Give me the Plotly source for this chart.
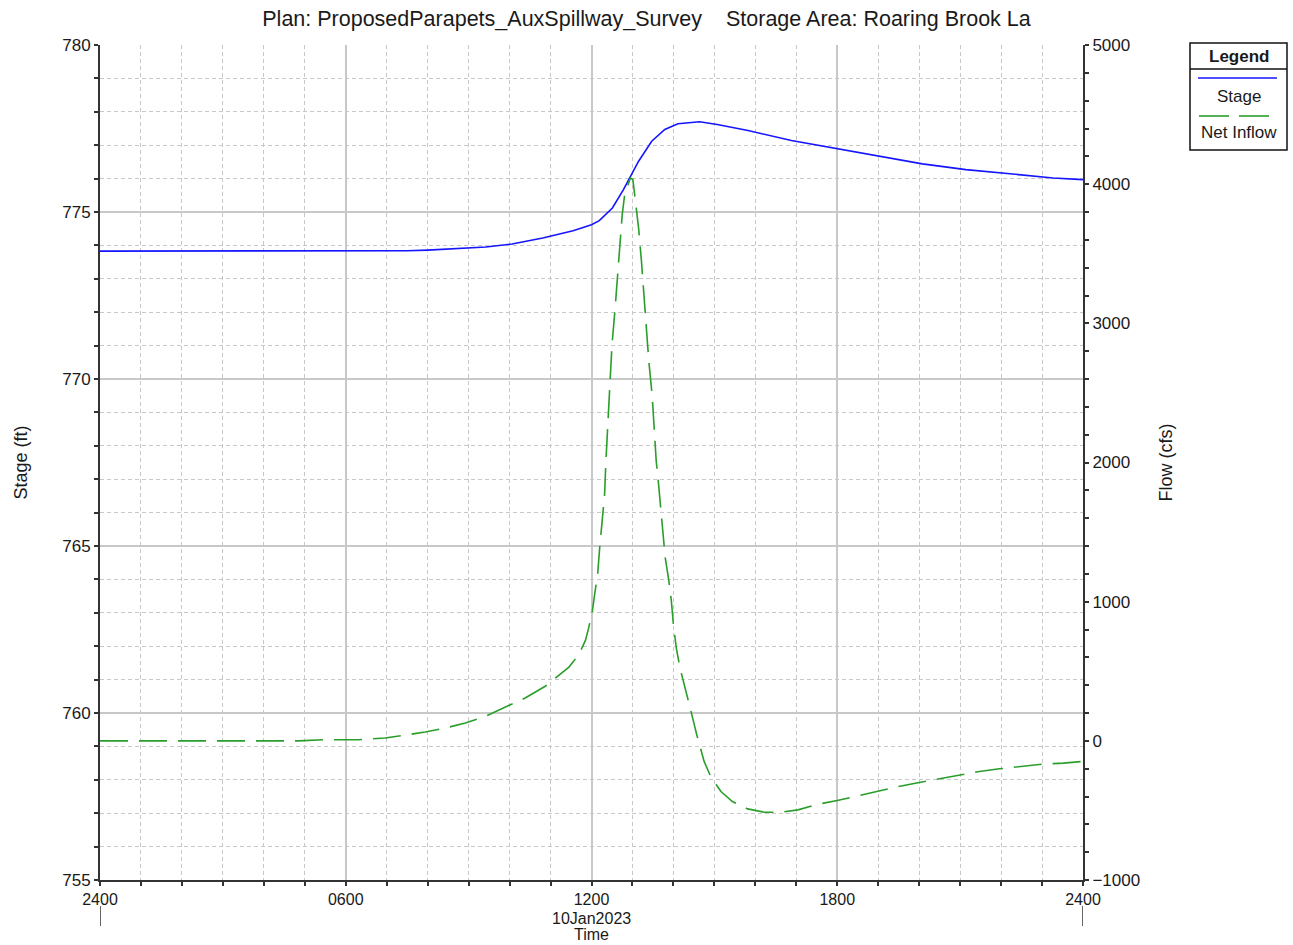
import pandas as pd
import plotly.graph_objects as go

# ---------------- data ----------------
stage_hours = [0, 2, 4, 6, 7, 7.5, 8, 8.67, 9.42, 10.06, 10.81, 11.55, 12.0, 12.19, 12.51,
               12.78, 12.94, 13.15, 13.47, 13.79, 14.11, 14.64, 15.07, 15.82, 16.88, 18.0,
               19.01, 20.08, 21.14, 22.21, 23.27, 24.0]
stage_values = [773.83, 773.83, 773.83, 773.83, 773.83, 773.84, 773.86, 773.9, 773.95, 774.04,
                774.22, 774.44, 774.62, 774.74, 775.12, 775.67, 776.02, 776.52, 777.12, 777.47,
                777.64, 777.70, 777.62, 777.44, 777.14, 776.89, 776.67, 776.44, 776.27, 776.14,
                776.02, 775.97]

flow_hours = [0, 2, 4, 4.84, 5.49, 6.31, 6.96, 7.45, 7.94, 8.43, 8.92, 9.41, 9.90, 10.38, 10.87,
              11.2, 11.45, 11.69, 11.85, 11.93, 12.02, 12.08, 12.15, 12.20, 12.26, 12.32, 12.35,
              12.40, 12.44, 12.50, 12.57, 12.63, 12.68, 12.75, 12.81, 12.95, 13.01, 13.07, 13.15,
              13.22, 13.28, 13.33, 13.40, 13.48, 13.54, 13.58, 13.63, 13.68, 13.74, 13.80, 13.89,
              13.95, 14.0, 14.07, 14.16, 14.29, 14.43, 14.57, 14.75, 14.91, 15.16, 15.44, 15.81,
              16.22, 16.63, 17.04, 17.53, 18.0, 18.52, 19.01, 19.5, 20.0, 20.48, 20.98, 21.47,
              21.96, 22.45, 23.02, 23.52, 24.0]
flow_values = [0, 0, 0, 0, 8, 8, 20, 39, 63, 92, 128, 176, 241, 308, 392,
               470, 530, 620, 720, 810, 930, 1060, 1196, 1388, 1580, 1772, 2000,
               2293, 2533, 2845, 3085, 3325, 3565, 3781, 3925, 4045, 4033, 3877, 3685,
               3445, 3205, 3013, 2725, 2485, 2197, 2012, 1868, 1700, 1484, 1316, 1148,
               1004, 836, 668, 524, 380, 212, 44, -148, -256, -364, -436, -489,
               -513, -513, -496, -455, -429, -393, -359, -328, -299, -273, -244, -220,
               -201, -184, -167, -160, -148]

x_tick_hours = [0, 6, 12, 18, 24]
x_tick_labels = ["2400", "0600", "1200", "1800", "2400"]
date_label = "10Jan2023"
x_title = "Time"
stage_range = [755, 780]
flow_range = [-1000, 5000]

title_text = "Plan: ProposedParapets_AuxSpillway_Survey    Storage Area: Roaring Brook La"

base = pd.Timestamp("2023-01-10 00:00")
def to_time(hours):
    return [base + pd.Timedelta(hours=h) for h in hours]

# ---------------- figure ----------------
W, H = 1293, 945
L, R, T, B = 100, 1083, 45, 880

FONT = "Liberation Sans, Arial, sans-serif"
TXT = "#1a1a1a"
BLUE = "#1515FF"
GREEN = "#2A9E2A"
GRID = "#C8C8C8"
AXIS = "#333333"
FS = 17
FSX = 16

fig = go.Figure()
fig.add_trace(go.Scatter(x=to_time(stage_hours), y=stage_values, mode="lines",
                         line=dict(color=BLUE, width=1.6), name="Stage", yaxis="y"))
fig.add_trace(go.Scatter(x=to_time(flow_hours), y=flow_values, mode="lines",
                         line=dict(color=GREEN, width=1.6, dash="28px,11px"),
                         name="Net Inflow", yaxis="y2"))

t0 = base
t1 = base + pd.Timedelta(hours=24)

fig.update_layout(
    width=W, height=H,
    margin=dict(l=L, r=W - R, t=T, b=H - B, autoexpand=False),
    paper_bgcolor="white", plot_bgcolor="white",
    showlegend=False,
    font=dict(family=FONT, size=FS, color=TXT),
    title=dict(text=title_text, x=0.5, xref="container", xanchor="center",
               y=1 - 18 / H, yref="container", yanchor="middle",
               font=dict(size=21.5, color=TXT)),
    xaxis=dict(
        range=[t0, t1], type="date",
        tickmode="array", tickvals=to_time(x_tick_hours), ticktext=x_tick_labels,
        ticks="outside", ticklen=4, tickwidth=1.5, tickcolor=AXIS,
        showgrid=True, gridcolor=GRID, gridwidth=1.5,
        showline=True, linecolor=AXIS, linewidth=2,
        zeroline=False,
        tickfont=dict(size=FSX),
        minor=dict(dtick=3600000, tick0=t0, ticks="outside", ticklen=4, tickwidth=1.5,
                   tickcolor=AXIS, showgrid=True, gridcolor=GRID, griddash="4px,3px",
                   gridwidth=1),
        automargin=False,
    ),
    yaxis=dict(
        range=stage_range, dtick=5, tick0=755,
        ticks="outside", ticklen=4, tickwidth=1.5, tickcolor=AXIS,
        showgrid=True, gridcolor=GRID, gridwidth=1.5,
        showline=True, linecolor=AXIS, linewidth=2,
        zeroline=False,
        tickfont=dict(size=FS),
        minor=dict(dtick=1, tick0=755, ticks="outside", ticklen=4, tickwidth=1.5,
                   tickcolor=AXIS, showgrid=True, gridcolor=GRID, griddash="4px,3px",
                   gridwidth=1),
        title=dict(text="Stage (ft)", standoff=30, font=dict(size=18)),
        automargin=False,
    ),
    yaxis2=dict(
        range=flow_range, dtick=1000, tick0=-1000, overlaying="y", side="right",
        ticks="outside", ticklen=4, tickwidth=1.5, tickcolor=AXIS,
        showgrid=False,
        showline=True, linecolor=AXIS, linewidth=2,
        zeroline=False,
        tickfont=dict(size=FS),
        minor=dict(dtick=200, tick0=-1000, ticks="outside", ticklen=4, tickwidth=1.5,
                   tickcolor=AXIS, showgrid=False),
        title=dict(text="Flow (cfs)", standoff=20, font=dict(size=18)),
        automargin=False,
    ),
)

def px_x(p):
    return (p - L) / (R - L)

def px_y(p):
    return (B - p) / (B - T)

# date and axis title under the 1200 label
t_mid = base + pd.Timedelta(hours=x_tick_hours[2])
fig.add_annotation(xref="x", yref="paper", x=t_mid, y=px_y(918), text=date_label,
                   showarrow=False, font=dict(size=FSX), xanchor="center", yanchor="middle")
fig.add_annotation(xref="x", yref="paper", x=t_mid, y=px_y(934), text=x_title,
                   showarrow=False, font=dict(size=FSX), xanchor="center", yanchor="middle")

# day-separator marks below the first and last time labels
for t in (t0, t1):
    fig.add_shape(type="line", xref="x", yref="paper", x0=t, x1=t,
                  y0=px_y(906), y1=px_y(926),
                  line=dict(color=AXIS, width=1.5))

# ---------------- custom legend (HEC-RAS style) ----------------
lx0, lx1, ly0, ly1 = 1190, 1287, 43, 150
fig.add_shape(type="rect", xref="paper", yref="paper",
              x0=px_x(lx0), x1=px_x(lx1), y0=px_y(ly1), y1=px_y(ly0),
              line=dict(color="#111111", width=1.5), fillcolor="white", layer="above")
fig.add_shape(type="line", xref="paper", yref="paper",
              x0=px_x(lx0), x1=px_x(lx1), y0=px_y(69), y1=px_y(69),
              line=dict(color="#111111", width=1.5))
cx = (lx0 + lx1) / 2
fig.add_annotation(xref="paper", yref="paper", x=px_x(cx), y=px_y(56), text="<b>Legend</b>",
                   showarrow=False, font=dict(size=FS, color=TXT), xanchor="center", yanchor="middle")
fig.add_shape(type="line", xref="paper", yref="paper",
              x0=px_x(1198), x1=px_x(1277), y0=px_y(78), y1=px_y(78),
              line=dict(color=BLUE, width=1.6))
fig.add_annotation(xref="paper", yref="paper", x=px_x(cx), y=px_y(97), text="Stage",
                   showarrow=False, font=dict(size=FS, color=TXT), xanchor="center", yanchor="middle")
for a, b in ((1199, 1229), (1239, 1269)):
    fig.add_shape(type="line", xref="paper", yref="paper",
                  x0=px_x(a), x1=px_x(b), y0=px_y(116), y1=px_y(116),
                  line=dict(color=GREEN, width=1.6))
fig.add_annotation(xref="paper", yref="paper", x=px_x(cx), y=px_y(132), text="Net Inflow",
                   showarrow=False, font=dict(size=FS, color=TXT), xanchor="center", yanchor="middle")

fig.write_html("out.html")
